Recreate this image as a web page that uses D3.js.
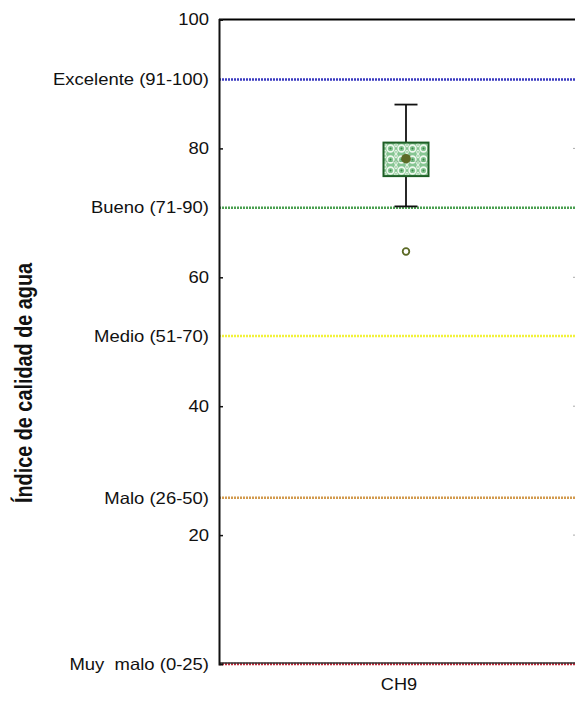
<!DOCTYPE html>
<html>
<head>
<meta charset="utf-8">
<title>Índice de calidad de agua</title>
<script src="https://d3js.org/d3.v7.min.js"></script>
<style>
  body { margin: 0; background: #fff; }
  svg { display: block; font-family: "Liberation Sans", Arial, sans-serif; }
</style>
</head>
<body>
<svg id="chart" width="575" height="701"></svg>
<script>
// data
var sites = ["CH9"];
var whiskerLow = [71];
var q1 = [75.7];
var median = [78];
var q3 = [80.9];
var whiskerHigh = [86.8];
var means = [78.4];
var outliers = [[64]];

var yTicks = [20, 40, 60, 80, 100];
var classNames = ["Excelente (91-100)", "Bueno (71-90)", "Medio (51-70)", "Malo (26-50)", "Muy  malo (0-25)"];
var classLimits = [90.7, 70.8, 50.9, 25.8, 0];
var classColors = ["#3a3ac0", "#4a9f50", "#f2f23a", "#d29a4e", "#c0283a"];

// plot box (right edge runs past the window like in the original)
var plotLeft = 219, plotRight = 593, plotTop = 19.5, plotBottom = 664;
var svg = d3.select("#chart");

var y = d3.scaleLinear().domain([0, 100]).range([plotBottom, plotTop]);
var x = d3.scalePoint().domain(sites).range([plotLeft, plotRight]).padding(0.5);

// fill pattern for the box
var defs = svg.append("defs");
var pat = defs.append("pattern")
  .attr("id", "swirl").attr("patternUnits", "userSpaceOnUse")
  .attr("width", 11).attr("height", 11);
pat.append("rect").attr("width", 11).attr("height", 11).attr("fill", "#86c592");
pat.append("circle").attr("cx", 5.5).attr("cy", 5.5).attr("r", 3.4)
  .attr("fill", "none").attr("stroke", "#eef8ee").attr("stroke-width", 1.6);
pat.append("circle").attr("cx", 5.5).attr("cy", 5.5).attr("r", 1)
  .attr("fill", "#3a8a46");
pat.append("path").attr("d", "M0,0 Q2.5,2 0,4 M11,0 Q8.5,2 11,4 M0,11 Q2.5,9 0,7 M11,11 Q8.5,9 11,7")
  .attr("fill", "none").attr("stroke", "#e2f2e2").attr("stroke-width", 1.2);

// category lines
svg.append("g").selectAll("line")
  .data(classLimits)
  .join("line")
  .attr("x1", plotLeft).attr("x2", plotRight)
  .attr("y1", function(d) { return y(d); })
  .attr("y2", function(d) { return y(d); })
  .attr("stroke", function(d, i) { return classColors[i]; })
  .attr("stroke-width", 2.4)
  .attr("stroke-dasharray", "2,1");

// frame
svg.append("line").attr("x1", plotLeft).attr("x2", plotRight).attr("y1", plotTop).attr("y2", plotTop)
  .attr("stroke", "#000").attr("stroke-width", 2);
svg.append("line").attr("x1", plotLeft).attr("x2", plotRight).attr("y1", plotBottom - 1).attr("y2", plotBottom - 1)
  .attr("stroke", "#333").attr("stroke-width", 1.5);

// right side ticks
svg.append("g").selectAll("line")
  .data(yTicks.slice(0, 4))
  .join("line")
  .attr("x1", 573).attr("x2", 577)
  .attr("y1", function(d) { return y(d); })
  .attr("y2", function(d) { return y(d); })
  .attr("stroke", "#aaa").attr("stroke-width", 1);

// left axis
var yAxis = svg.append("g")
  .attr("transform", "translate(" + plotLeft + ",0)")
  .call(d3.axisLeft(y).tickValues(yTicks).tickSize(-4).tickPadding(10).tickFormat(d3.format("d")));
yAxis.select(".domain").attr("stroke", "#111").attr("stroke-width", 2);
yAxis.selectAll(".tick line").attr("stroke", "#111").attr("stroke-width", 1.5);
// labels in the original are a bit wider than Liberation Sans
yAxis.selectAll(".tick text")
  .attr("x", null)
  .attr("transform", "translate(-10,0) scale(1.12,1)")
  .attr("font-size", 16.5).attr("fill", "#111")
  .attr("font-family", "Liberation Sans, Arial, sans-serif");

// class labels
svg.append("g").selectAll("text")
  .data(classNames)
  .join("text")
  .attr("transform", function(d, i) {
    return "translate(" + (plotLeft - 10) + "," + y(classLimits[i]) + ") scale(1.12,1)";
  })
  .attr("dy", "0.35em")
  .attr("text-anchor", "end")
  .attr("font-size", 16.5)
  .attr("fill", "#111")
  .style("white-space", "pre")
  .text(function(d) { return d; });

// x label
svg.append("g").selectAll("text")
  .data(sites)
  .join("text")
  .attr("transform", function(d) { return "translate(" + (x(d) - 7) + ",690) scale(1.1,1)"; })
  .attr("text-anchor", "middle")
  .attr("font-size", 16.5)
  .attr("fill", "#111")
  .text(function(d) { return d; });

// y title (narrow bold in the original)
svg.append("text")
  .attr("transform", "translate(32,383) rotate(-90)")
  .attr("text-anchor", "middle")
  .attr("font-weight", "bold")
  .attr("font-size", 23.5)
  .attr("textLength", 240)
  .attr("lengthAdjust", "spacingAndGlyphs")
  .attr("fill", "#111")
  .text("Índice de calidad de agua");

// box plot
var boxW = 45, capW = 23;
var bp = svg.append("g").selectAll("g")
  .data(sites)
  .join("g");

bp.append("line")
  .attr("x1", function(d) { return x(d); }).attr("x2", function(d) { return x(d); })
  .attr("y1", function(d, i) { return y(whiskerHigh[i]); })
  .attr("y2", function(d, i) { return y(whiskerLow[i]); })
  .attr("stroke", "#111").attr("stroke-width", 1.8);

[whiskerHigh, whiskerLow].forEach(function(arr) {
  bp.append("line")
    .attr("x1", function(d) { return x(d) - capW / 2; })
    .attr("x2", function(d) { return x(d) + capW / 2; })
    .attr("y1", function(d, i) { return y(arr[i]); })
    .attr("y2", function(d, i) { return y(arr[i]); })
    .attr("stroke", "#111").attr("stroke-width", 1.8);
});

bp.append("rect")
  .attr("x", function(d) { return x(d) - boxW / 2; })
  .attr("y", function(d, i) { return y(q3[i]); })
  .attr("width", boxW)
  .attr("height", function(d, i) { return y(q1[i]) - y(q3[i]); })
  .attr("fill", "url(#swirl)")
  .attr("stroke", "#1d5e25").attr("stroke-width", 2);

bp.append("line")
  .attr("x1", function(d) { return x(d) - boxW / 2; })
  .attr("x2", function(d) { return x(d) + boxW / 2; })
  .attr("y1", function(d, i) { return y(median[i]); })
  .attr("y2", function(d, i) { return y(median[i]); })
  .attr("stroke", "#2f7a3a").attr("stroke-width", 0.6).attr("opacity", 0.5);

bp.append("circle")
  .attr("cx", function(d) { return x(d); })
  .attr("cy", function(d, i) { return y(means[i]); })
  .attr("r", 4.8)
  .attr("fill", "#5c6a26");

bp.each(function(d, i) {
  d3.select(this).selectAll("circle.out")
    .data(outliers[i])
    .join("circle")
    .attr("class", "out")
    .attr("cx", x(d))
    .attr("cy", function(v) { return y(v); })
    .attr("r", 3.3)
    .attr("fill", "none")
    .attr("stroke", "#5c6a26")
    .attr("stroke-width", 1.8);
});
</script>
</body>
</html>
